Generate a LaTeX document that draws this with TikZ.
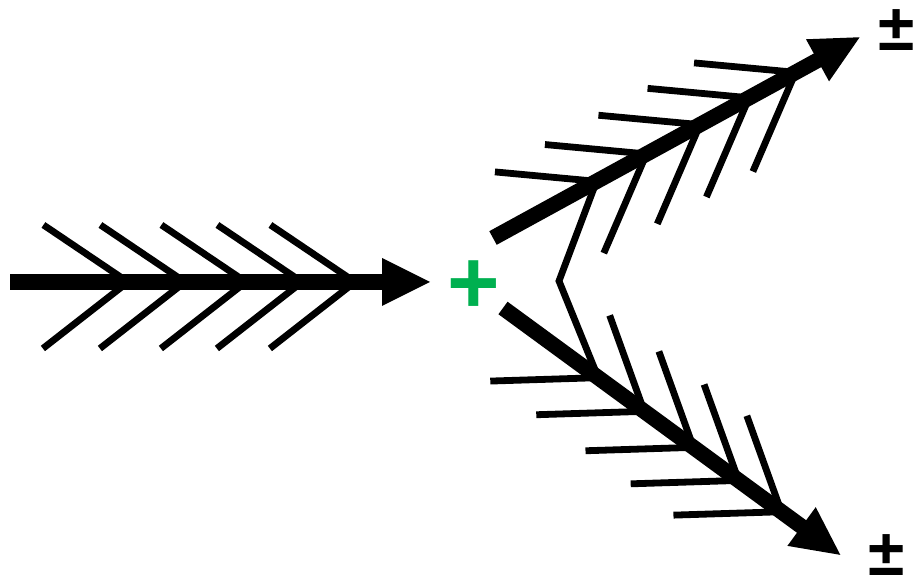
\documentclass[tikz,border=0pt]{standalone}
\usepackage{fontspec}
\setmainfont{Liberation Sans}
\definecolor{plusgreen}{HTML}{00B050}
\tikzset{
  shaftline/.style={line width=15.5pt},
  featherline/.style={line width=6.8pt, line join=miter},
  headtip/.style={fill=black},
  sign/.style={inner sep=0pt, font=\bfseries\fontsize{66}{66}\selectfont},
}
\begin{document}
\begin{tikzpicture}[x=1pt,y=1pt]
\useasboundingbox (0,0) rectangle (917,588);
% junction of the two inner feathers
\coordinate (J) at (559,307);
% left feathered arrow
\begin{scope}[shift={(10,306)}]
  \coordinate (a0) at (0,0);
  \coordinate (a1) at (420,0);
  \foreach \t in {118,175,236,292,345}{
    \draw[featherline] (\t,0) -- ++(146:102);
    \draw[featherline] (\t,0) -- ++(218:108);
  }
  \draw[shaftline] (a0) -- (375,0);
  \fill[headtip] (a1) -- (372,24) -- (372,-24) -- cycle;
\end{scope}
% upper right feathered arrow (feathers)
\begin{scope}[shift={(493,350)}, rotate=28.7]
  \coordinate (b0) at (0,0);
  \coordinate (b1) at (418,0);
  \coordinate (bv) at (118,0);
  \foreach \t in {118,175,236,292,345}{
    \draw[featherline] (\t,0) -- ++(146:102);
  }
  \foreach \t in {175,236,292,345}{
    \draw[featherline] (\t,0) -- ++(218:108);
  }
\end{scope}
% lower right feathered arrow (feathers)
\begin{scope}[shift={(503,280)}, rotate=-36.2]
  \coordinate (c0) at (0,0);
  \coordinate (c1) at (418,0);
  \coordinate (cv) at (118,0);
  \foreach \t in {175,236,292,345}{
    \draw[featherline] (\t,0) -- ++(146:102);
  }
  \foreach \t in {118,175,236,292,345}{
    \draw[featherline] (\t,0) -- ++(218:108);
  }
\end{scope}
\draw[featherline] (bv) -- (J) -- (cv);
% shafts and heads of the two branches
\begin{scope}[shift={(493,350)}, rotate=28.7]
  \draw[shaftline] (b0) -- (373,0);
  \fill[headtip] (b1) -- (370,24) -- (370,-24) -- cycle;
\end{scope}
\begin{scope}[shift={(503,280)}, rotate=-36.2]
  \draw[shaftline] (c0) -- (373,0);
  \fill[headtip] (c1) -- (370,24) -- (370,-24) -- cycle;
\end{scope}
% labels
\node[sign, text=plusgreen, font=\bfseries\fontsize{90}{90}\selectfont] (plus) at (474,300.5) {+};
\node[sign] (pmtop) at (897,558) {±};
\node[sign] (pmbot) at (887,33) {±};
\end{tikzpicture}
\end{document}
